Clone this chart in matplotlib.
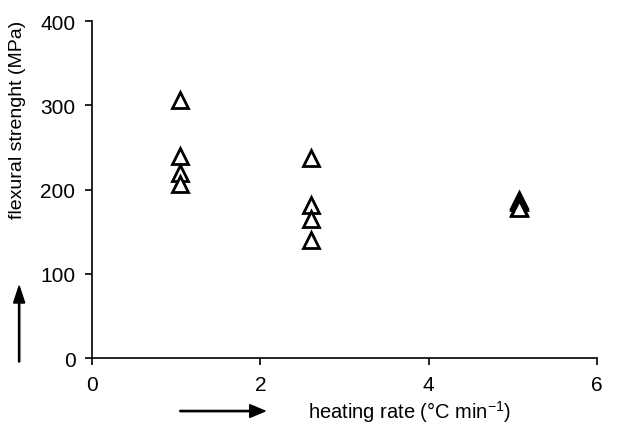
import numpy as np
import matplotlib.pyplot as plt
from matplotlib.patches import FancyArrow

plt.rcParams['font.family'] = ['Liberation Sans', 'DejaVu Sans']
plt.rcParams['mathtext.default'] = 'regular'

# heating rate (°C/min) and flexural strength (MPa)
rate = [1.05, 1.05, 1.05, 1.05, 2.6, 2.6, 2.6, 2.6, 5.07, 5.07, 5.07, 5.07]
strength = [307, 240, 220, 207, 237, 182, 165, 140, 188, 185, 180, 178]

x_ticks = [0, 2, 4, 6]
y_ticks = [0, 100, 200, 300, 400]

fig = plt.figure(figsize=(6.18, 4.27), dpi=100)
ax = fig.add_axes([0.149, 0.159, 0.817, 0.789])

ax.plot(rate, strength, linestyle='none', marker='^', markersize=11,
        markerfacecolor='white', markeredgecolor='black', markeredgewidth=2)

ax.set_xlim(0, 6)
ax.set_ylim(0, 400)
ax.set_xticks(x_ticks)
ax.set_yticks(y_ticks)
ax.spines['top'].set_visible(False)
ax.spines['right'].set_visible(False)
ax.spines['left'].set_linewidth(1.2)
ax.spines['bottom'].set_linewidth(1.2)
ax.tick_params(direction='out', length=5, width=1.2, labelsize=15, pad=7)

# labels placed like the original figure, with arrows
fig.text(0.029, 0.72, 'flexural strenght (MPa)', rotation=90, fontsize=14,
         ha='center', va='center')
fig.text(0.498, 0.035, 'heating rate (°C min$^{-1}$)', fontsize=14.5,
         ha='left', va='center')
fig.patches.append(FancyArrow(
    0.031, 0.15, 0, 0.178, width=0.002, head_width=0.018, head_length=0.04,
    length_includes_head=True, color='black', transform=fig.transFigure))
fig.patches.append(FancyArrow(
    0.291, 0.035, 0.138, 0, width=0.003, head_width=0.03, head_length=0.025,
    length_includes_head=True, color='black', transform=fig.transFigure))

fig.savefig('out.png', dpi=100)
